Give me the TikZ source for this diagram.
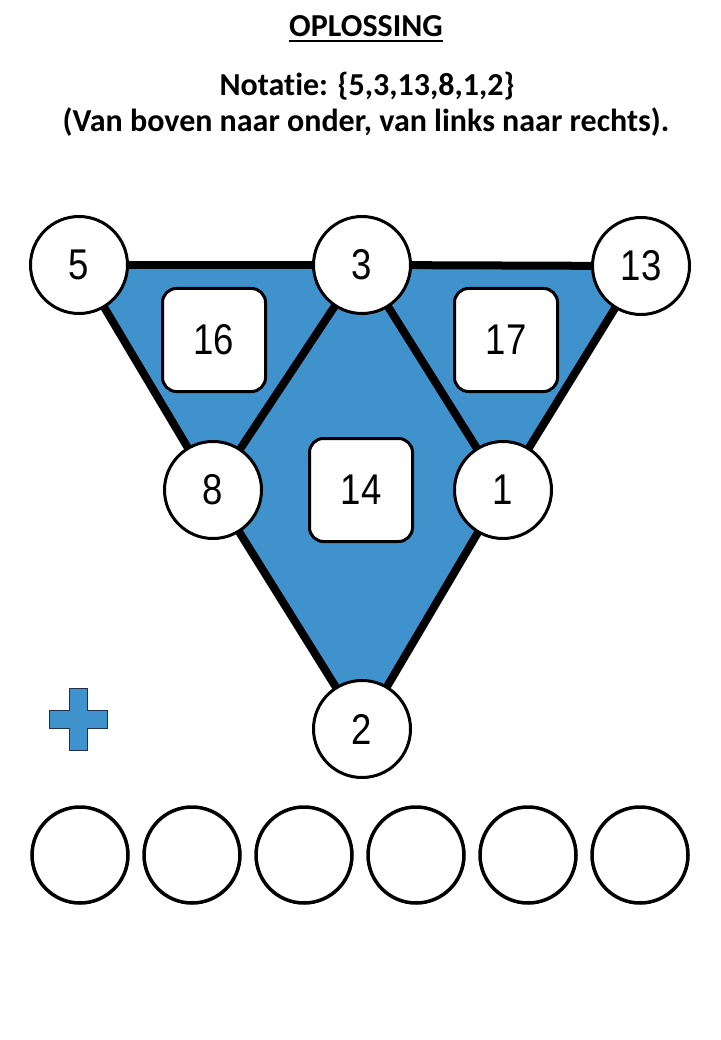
\documentclass[tikz,border=0pt]{standalone}
\usepackage{graphicx}
\usepackage{fontspec}
\setmainfont[Ligatures=NoCommon,RawFeature=-liga]{Carlito}
\newfontfamily\numfont{Liberation Sans}
\usetikzlibrary{backgrounds}
\definecolor{tblue}{RGB}{64,146,205}
\definecolor{pborder}{RGB}{30,50,80}
\newcommand{\nmtxt}[1]{\scalebox{0.85}[1]{#1}}
\tikzset{
  numcircle/.style={circle, draw=black, line width=3pt, fill=white, minimum size=97pt, inner sep=0pt, font=\numfont\fontsize{43}{43}\selectfont},
  emptycircle/.style={circle, draw=black, line width=3.5pt, fill=white, minimum size=96pt, inner sep=0pt},
  sumbox/.style={draw=black, line width=3pt, fill=white, rounded corners=14pt, minimum width=103pt, minimum height=103pt, inner sep=0pt, font=\numfont\fontsize{43}{43}\selectfont},
  edge/.style={line width=8pt, draw=black},
  titletext/.style={font=\bfseries\fontsize{32}{36}\selectfont, inner sep=0pt}
}
\begin{document}
\begin{tikzpicture}[x=1pt,y=-1pt]
\useasboundingbox (0,0) rectangle (720,1040);
% titles
\node[titletext] (title) at (366,26) {OPLOSSING};
\draw[line width=2pt] (title.south west) ++(0,4) coordinate (ul1) -- (title.south east |- ul1) coordinate (ul2);
\node[titletext] (not) at (367,86) {Notatie: \{5,3,13,8,1,2\}};
\node[titletext] (sub) at (366,122) {(Van boven naar onder, van links naar rechts).};
% circles
\node[numcircle] (n5) at (79,265) {\nmtxt{5}};
\node[numcircle] (n3) at (362,265) {\nmtxt{3}};
\node[numcircle] (n13) at (641,266) {\nmtxt{13}};
\node[numcircle] (n8) at (213,490) {\nmtxt{8}};
\node[numcircle] (n1) at (503,490) {\nmtxt{1}};
\node[numcircle] (n2) at (362,729) {\nmtxt{2}};
% sum boxes
\node[sumbox] (b16) at (214,340) {\raisebox{-3pt}{\nmtxt{16}}};
\node[sumbox] (b17) at (506,340) {\nmtxt{17}};
\node[sumbox] (b14) at (361,490) {\raisebox{-3pt}{\nmtxt{14}}};
\begin{scope}[on background layer]
  \fill[tblue] (n5.center) -- (n13.center) -- (n2.center) -- cycle;
  \draw[edge] (n5.center) -- (n3.center);
  \draw[edge] (n3.center) -- (n13.center);
  \draw[edge] (n5.center) -- (n8.center);
  \draw[edge] (n8.center) -- (n2.center);
  \draw[edge] (n13.center) -- (n1.center);
  \draw[edge] (n1.center) -- (n2.center);
  \draw[edge] (n3.center) -- (n8.center);
  \draw[edge] (n3.center) -- (n1.center);
\end{scope}
% plus sign
\draw[fill=tblue, draw=pborder, line width=0.8pt] (69,688) -- (87,688) -- (87,710) -- (107,710) -- (107,728) -- (87,728) -- (87,750) -- (69,750) -- (69,728) -- (49,728) -- (49,710) -- (69,710) -- cycle;
% empty circles
\foreach \i/\x in {1/80,2/192,3/304,4/416,5/528,6/640} {
  \node[emptycircle] (e\i) at (\x,855) {};
}
\end{tikzpicture}
\end{document}
